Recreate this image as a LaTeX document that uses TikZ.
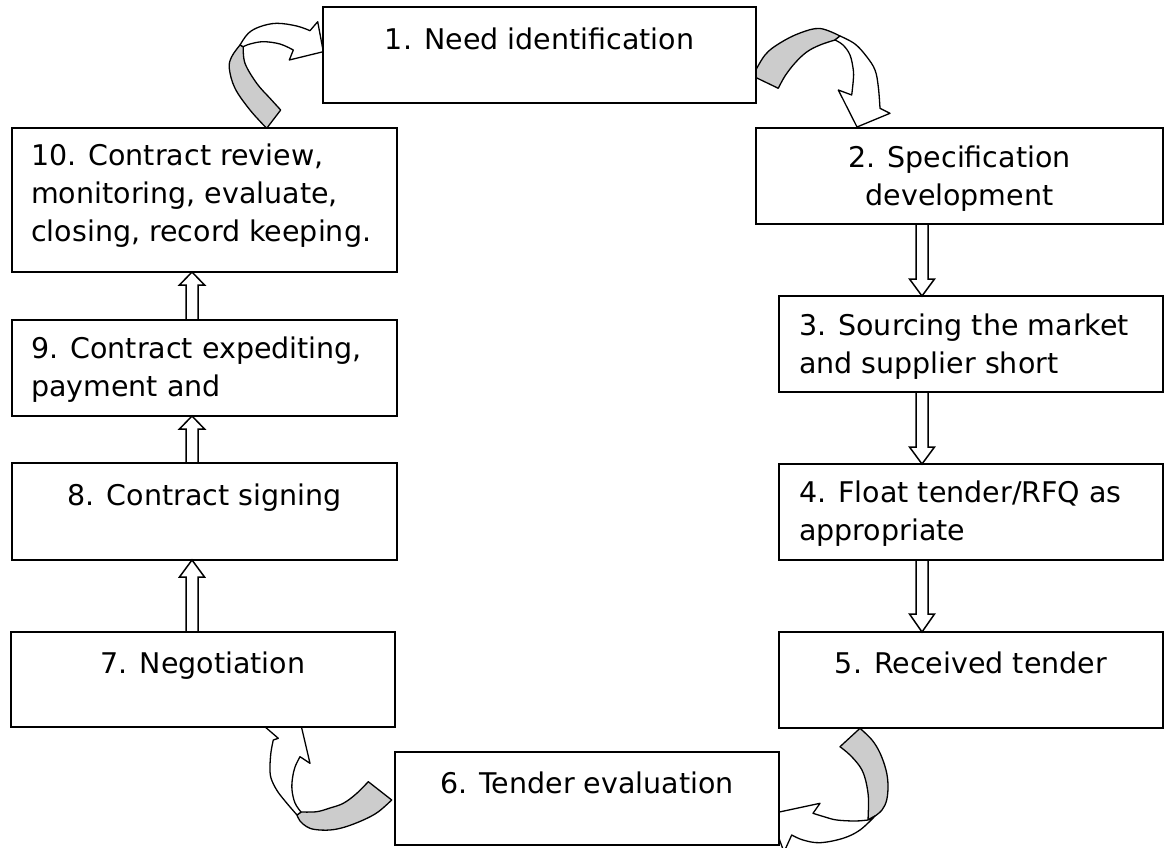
\documentclass[tikz,border=0pt]{standalone}
\usepackage{fontspec}
\setmainfont{DejaVu Sans}
\usetikzlibrary{calc}
\definecolor{bandgray}{RGB}{204,204,204}
\newcommand\downblk[3]{\draw[blk] ($(#1)+(-6,0)$) -- ($(#2)+(-6,-#3)$) -- ($(#2)+(-12.5,-#3)$) -- (#2) -- ($(#2)+(12.5,-#3)$) -- ($(#2)+(6,-#3)$) -- ($(#1)+(6,0)$);}
\newcommand\upblk[3]{\draw[blk] ($(#1)+(-6,0)$) -- ($(#2)+(-6,#3)$) -- ($(#2)+(-12.5,#3)$) -- (#2) -- ($(#2)+(12.5,#3)$) -- ($(#2)+(6,#3)$) -- ($(#1)+(6,0)$);}
\begin{document}
\begin{tikzpicture}[x=1pt,y=-1pt,
  box/.style={draw=black, line width=2pt, fill=white, inner sep=0pt, outer sep=0pt, anchor=north west},
  txt/.style={inner sep=0pt, font=\fontsize{28.5}{38}\selectfont},
  blk/.style={draw=black, line width=1.5pt, line join=miter},
  band/.style={draw=black, line width=1.3pt, line join=round}]
\useasboundingbox (0,0) rectangle (1165,848);

% curved arrows (drawn first, boxes cover their ends)
% 10 -> 1
\draw[band, fill=bandgray] (266.7,128.3) -- plot[smooth, tension=0.6] coordinates {(280.7,110) (270,98.3) (256.7,83.3) (245,63.3) (243.3,46.7)} -- plot[smooth, tension=0.6] coordinates {(240,45) (231.7,56.7) (229.3,68.3) (235,88.3) (250,110) (266.7,128.3)} -- cycle;
\draw[band, fill=white] plot[smooth, tension=0.6] coordinates {(240,45) (248.3,33.3) (260,26.7) (276.7,23.3) (296.7,26) (310,30.7)} -- (317.7,21.7) -- (323.3,51.7) -- (289.3,60) -- plot[smooth, tension=0.6] coordinates {(293.3,50) (280,44) (263.3,41.7) (250,44) (243.3,46.7)} -- cycle;
% 1 -> 2
\draw[band, fill=bandgray] plot[smooth, tension=0.6] coordinates {(752.7,76) (765,55) (780,43) (800,33) (820,28.5) (840,36)} -- plot[smooth, tension=0.6] coordinates {(835,40) (820,45) (806.7,52) (795,63) (785,76) (778.3,88.3)} -- cycle;
\draw[band, fill=white] plot[smooth, tension=0.6] coordinates {(840,36) (855,44) (866.7,56.7) (875,70) (878.3,86.7) (880,108.3)} -- (890,113.3) -- (857,127) -- (838.3,90) -- plot[smooth, tension=0.6] coordinates {(851.7,95) (853.3,80) (853.3,70) (850,55) (843,45) (835,40)} -- cycle;
% 5 -> 6
\draw[band, fill=bandgray] plot[smooth, tension=0.6] coordinates {(860,728.3) (872,740) (880,753) (886,770) (888,785) (886.7,800) (882,810) (875,816)} -- plot[smooth, tension=0.6] coordinates {(868,820) (868.5,805) (868,793) (865,778) (860,766.7) (850,755) (840,746.7)} -- cycle;
\draw[band, fill=white] plot[smooth, tension=0.6] coordinates {(868,820) (855,821) (836.7,820) (825,817) (813,813.3)} -- (820,803.3) -- (770,814) -- (784,852) -- plot[smooth, tension=0.6] coordinates {(791.7,835) (803,840) (820,842.7) (843,838.3) (860,830) (875,816)} -- cycle;
% 6 -> 7
\draw[band, fill=bandgray] (368.3,781.7) -- plot[smooth, tension=0.6] coordinates {(391.7,800) (378,812) (363.3,820) (345,827) (330,830) (315,829.5) (306.7,826.7) (300,821) (297,815)} -- plot[smooth, tension=0.6] coordinates {(301,812) (316.7,811.7) (330,808) (343.3,803.3) (356,794) (368.3,781.7)} -- cycle;
\draw[band, fill=white] plot[smooth, tension=0.6] coordinates {(297,815) (285,801) (276.7,790) (271,778) (270,766.7) (271,752) (273.3,740)} -- (278.3,738.3) -- (260.9,723.3) -- (297,708) -- (310,763.3) -- plot[smooth, tension=0.6] coordinates {(300,756.7) (295,767) (292.5,778) (292,790) (295,803) (301,812)} -- cycle;

% boxes
\node[box, minimum width=433, minimum height=96] (b1) at (323,7) {};
\node[box, minimum width=407, minimum height=96] (b2) at (756,128) {};
\node[box, minimum width=384, minimum height=96] (b3) at (779,296) {};
\node[box, minimum width=384, minimum height=96] (b4) at (779,464) {};
\node[box, minimum width=384, minimum height=96] (b5) at (779,632) {};
\node[box, minimum width=384, minimum height=93] (b6) at (395,752) {};
\node[box, minimum width=384, minimum height=95] (b7) at (11,632) {};
\node[box, minimum width=385, minimum height=97] (b8) at (12,463) {};
\node[box, minimum width=385, minimum height=96] (b9) at (12,320) {};
\node[box, minimum width=385, minimum height=144] (b10) at (12,128) {};

% texts (base anchor of a multi-line node = baseline of its last line)
\node[txt, anchor=base] (t1) at (539.5,50) {1. Need identification};
\node[txt, anchor=base, align=center] (t2) at (959.5,205) {2. Specification\\development};
\node[txt, anchor=base west, align=left] (t3) at (799,373) {3. Sourcing the market\\and supplier short};
\node[txt, anchor=base west, align=left] (t4) at (799,540) {4. Float tender/RFQ as\\appropriate};
\node[txt, anchor=base] (t5) at (971,673) {5. Received tender};
\node[txt, anchor=base] (t6) at (587,793) {6. Tender evaluation};
\node[txt, anchor=base] (t7) at (203,673) {7. Negotiation};
\node[txt, anchor=base] (t8) at (204.5,505) {8. Contract signing};
\node[txt, anchor=base west, align=left] (t9) at (31,396) {9. Contract expediting,\\payment and};
\node[txt, anchor=base west, align=left] (t10) at (31,241) {10. Contract review,\\monitoring, evaluate,\\closing, record keeping.};

% straight block arrows
\coordinate (rc) at (922,0);
\coordinate (lc) at (192,0);
\coordinate (s23) at (rc |- b2.south); \coordinate (e23) at (rc |- b3.north);
\coordinate (s34) at (rc |- b3.south); \coordinate (e34) at (rc |- b4.north);
\coordinate (s45) at (rc |- b4.south); \coordinate (e45) at (rc |- b5.north);
\coordinate (s78) at (lc |- b7.north); \coordinate (e78) at (lc |- b8.south);
\coordinate (s89) at (lc |- b8.north); \coordinate (e89) at (lc |- b9.south);
\coordinate (s910) at (lc |- b9.north); \coordinate (e910) at (lc |- b10.south);
\downblk{s23}{e23}{17}
\downblk{s34}{e34}{17}
\downblk{s45}{e45}{18}
\upblk{s78}{e78}{17}
\upblk{s89}{e89}{13}
\upblk{s910}{e910}{13}
\end{tikzpicture}
\end{document}
